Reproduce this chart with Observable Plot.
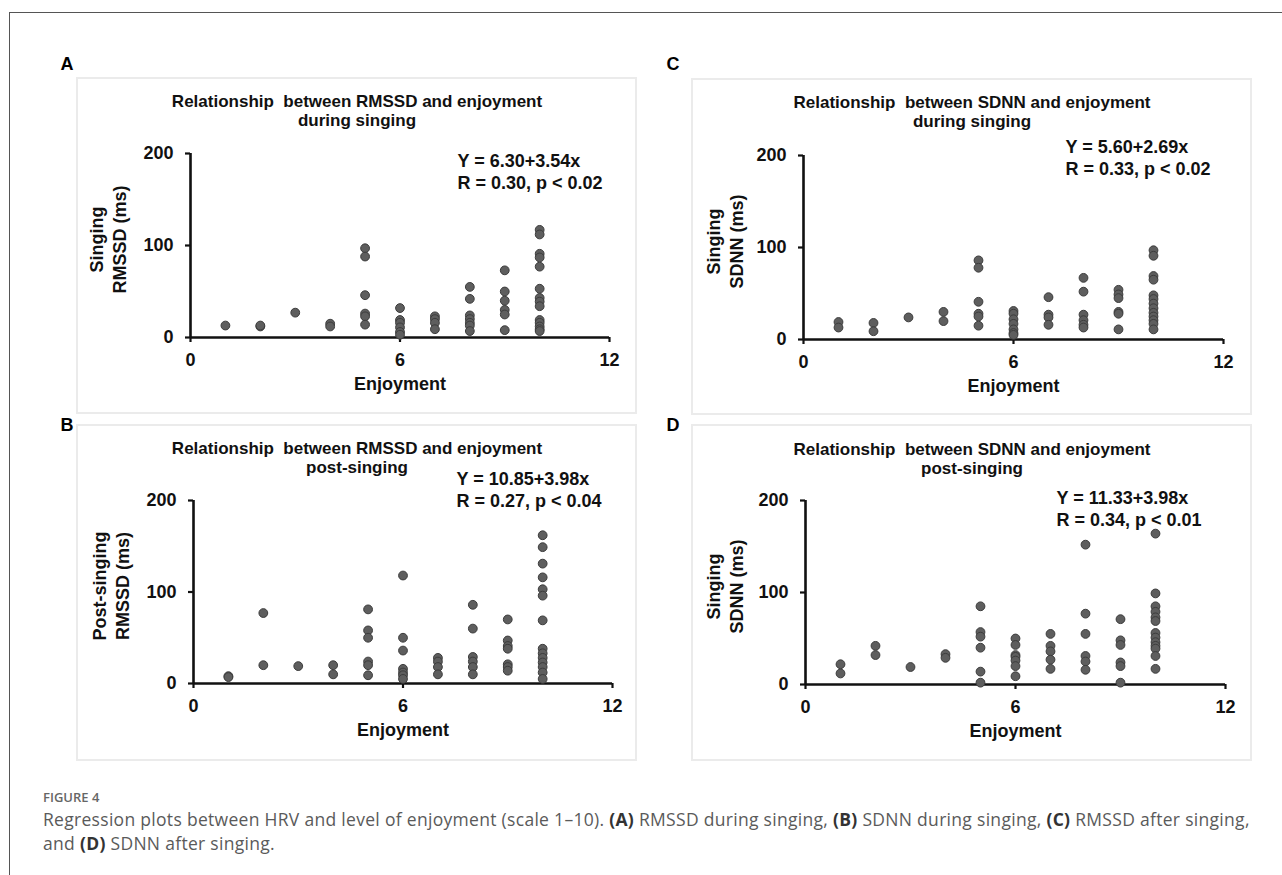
<!DOCTYPE html>
<html>
<head>
<meta charset="utf-8">
<script src="https://cdn.jsdelivr.net/npm/d3@7"></script>
<script src="https://cdn.jsdelivr.net/npm/@observablehq/plot@0.6"></script>
<style>
  html, body { margin: 0; padding: 0; background: #fff; }
  #page { position: relative; width: 1282px; height: 875px; overflow: hidden; background: #fff; }
  #frame { position: absolute; left: 9px; top: 12px; width: 1400px; height: 1000px;
           border-left: 1.5px solid #555; border-top: 1.5px solid #555; }
  .box { position: absolute; width: 561px; height: 337px; box-sizing: border-box; border: 2px solid #ebebeb; }
  .chart { position: absolute; }
  .chart svg { overflow: visible; }
  .plabel { position: absolute; font: bold 18px "Liberation Sans", Arial, sans-serif; color: #000;
            transform: translate(-50%, -50%); }
  #fig { position: absolute; left: 43px; top: 788px; font: 600 13px "Open Sans", sans-serif; color: #666; }
  #cap { position: absolute; left: 43px; top: 807px; width: 1225px; font: 17.5px/24px "Open Sans", sans-serif; color: #5a5a5a; letter-spacing: 0.3px; }
  #cap b { color: #333; font-weight: 700; }
</style>
</head>
<body>
<div id="page">
  <div id="frame"></div>
</div>
<script>
// ---------------- data ----------------
const enjoyment = [1, 2, 3, 4, 5, 6, 7, 8, 9, 10];
const xTicks = [0, 6, 12];
const yTicks = [0, 100, 200];

// values (ms) grouped by enjoyment level 1..10
const rmssdSinging = [
  [13], [12, 13], [27], [15, 12],
  [97, 88, 46, 26, 23, 14],
  [32, 19, 16, 11, 6, 3],
  [23, 20, 16, 9],
  [55, 42, 24, 20, 16, 13, 7],
  [73, 50, 40, 30, 25, 8],
  [117, 112, 91, 87, 77, 53, 43, 39, 34, 19, 16, 12, 9, 7]
];
const sdnnSinging = [
  [19, 13], [18, 9], [24], [30, 20],
  [86, 78, 41, 28, 25, 15],
  [31, 28, 22, 17, 11, 7, 5],
  [46, 27, 24, 16],
  [67, 52, 27, 21, 16, 13],
  [54, 49, 45, 30, 28, 11],
  [97, 91, 69, 65, 48, 44, 39, 34, 29, 25, 21, 17, 11]
];
const rmssdPost = [
  [8, 7], [77, 20], [19], [20, 10],
  [81, 58, 50, 24, 20, 9],
  [118, 50, 36, 16, 12, 9, 5],
  [28, 24, 18, 10],
  [86, 60, 29, 24, 18, 10],
  [70, 47, 41, 38, 21, 18, 14],
  [162, 149, 131, 116, 103, 96, 69, 38, 33, 28, 23, 18, 12, 5]
];
const sdnnPost = [
  [22, 12], [42, 32], [19], [33, 29],
  [85, 57, 52, 40, 14, 2],
  [50, 43, 32, 30, 26, 20, 9],
  [55, 42, 36, 27, 17],
  [152, 77, 55, 31, 25, 16],
  [71, 48, 43, 24, 20, 2],
  [164, 99, 85, 79, 73, 69, 56, 51, 46, 42, 39, 31, 17]
];

const panelLetters = ["A", "C", "B", "D"];
const panelTitles = [
  "Relationship  between RMSSD and enjoyment\nduring singing",
  "Relationship  between SDNN and enjoyment\nduring singing",
  "Relationship  between RMSSD and enjoyment\npost-singing",
  "Relationship  between SDNN and enjoyment\npost-singing"
];
const yLabels = [
  "Singing\nRMSSD (ms)",
  "Singing\nSDNN (ms)",
  "Post-singing\nRMSSD (ms)",
  "Singing\nSDNN (ms)"
];
const equations = [
  "Y = 6.30+3.54x\nR = 0.30, p < 0.02",
  "Y = 5.60+2.69x\nR = 0.33, p < 0.02",
  "Y = 10.85+3.98x\nR = 0.27, p < 0.04",
  "Y = 11.33+3.98x\nR = 0.34, p < 0.01"
];
const xLabel = "Enjoyment";
const panelValues = [rmssdSinging, sdnnSinging, rmssdPost, sdnnPost];

// ---------------- layout ----------------
const layout = [
  { left: 76,  top: 77,  m: [76, 28, 77, 114], eq: [267, 7],   yl: -83 , titleY: 33, letter: [67, 64] },
  { left: 691, top: 78,  m: [77, 29, 76, 112], eq: [262, -9],  yl: -79 , titleY: 33, letter: [673, 64] },
  { left: 76,  top: 424, m: [76, 25, 78, 117], eq: [263, -22], yl: -83 , titleY: 33, letter: [67, 425] },
  { left: 691, top: 424, m: [76, 27, 77, 114], eq: [251, -3],  yl: -81 , titleY: 34, letter: [673, 425] }
];

const page = document.getElementById("page");
const FONT = "'Liberation Sans', Arial, Helvetica, sans-serif";

panelValues.forEach((groups, i) => {
  const L = layout[i];
  const [mt, mr, mb, ml] = L.m;
  const W = 561, H = 337;
  const data = groups.flatMap((vals, k) => vals.map(v => ({ x: enjoyment[k], y: v })));

  const box = document.createElement("div");
  box.className = "box";
  box.style.left = L.left + "px";
  box.style.top = L.top + "px";
  page.appendChild(box);

  const chart = Plot.plot({
    width: W, height: H,
    marginTop: mt, marginRight: mr, marginBottom: mb, marginLeft: ml,
    style: { fontFamily: FONT, fontSize: "18px", fontWeight: "bold", color: "#111", background: "transparent", overflow: "visible" },
    x: { domain: [0, 12] },
    y: { domain: [0, 200] },
    marks: [
      Plot.axisX({ ticks: xTicks, tickSize: 5, tickPadding: 11, strokeWidth: 2.2, stroke: "#111", label: null, fontSize: 18, fill: "#111" }),
      Plot.axisY({ ticks: yTicks, tickSize: 5, tickPadding: 12, strokeWidth: 2.2, stroke: "#111", label: null, fontSize: 18, fill: "#111" }),
      Plot.ruleY([0], { stroke: "#111", strokeWidth: 2.6 }),
      Plot.ruleX([0], { stroke: "#111", strokeWidth: 2.6 }),
      Plot.dot(data, { x: "x", y: "y", r: 4.4, fill: "#5e5e5e", stroke: "#3c3c3c", strokeWidth: 1 }),
      Plot.text([panelTitles[i]], { frameAnchor: "top-left", dx: 280.5 - ml, dy: L.titleY - mt, textAnchor: "middle", lineAnchor: "middle", lineHeight: 1.12, fontSize: 17, fontWeight: "bold", fill: "#111" }),
      Plot.text([equations[i]], { frameAnchor: "top-left", dx: L.eq[0], dy: L.eq[1] + 10.5, textAnchor: "start", lineAnchor: "middle", lineHeight: 1.2, fontSize: 18, fontWeight: "bold", fill: "#111" }),
      Plot.text([yLabels[i]], { frameAnchor: "left", dx: L.yl, dy: -6, rotate: -90, textAnchor: "middle", lineAnchor: "middle", lineHeight: 1.25, fontSize: 18, fontWeight: "bold", fill: "#111" }),
      Plot.text([xLabel], { frameAnchor: "bottom", dx: 0, dy: 47, textAnchor: "middle", lineAnchor: "middle", fontSize: 18, fontWeight: "bold", fill: "#111" })
    ]
  });
  chart.classList.add("chart");
  chart.style.left = L.left + "px";
  chart.style.top = L.top + "px";
  chart.style.position = "absolute";
  page.appendChild(chart);

  const lab = document.createElement("div");
  lab.className = "plabel";
  lab.textContent = panelLetters[i];
  lab.style.left = L.letter[0] + "px";
  lab.style.top = L.letter[1] + "px";
  page.appendChild(lab);
});

const fig = document.createElement("div");
fig.id = "fig";
fig.textContent = "FIGURE 4";
page.appendChild(fig);

const cap = document.createElement("div");
cap.id = "cap";
cap.innerHTML = "Regression plots between HRV and level of enjoyment (scale 1\u201310). <b>(A)</b> RMSSD during singing, <b>(B)</b> SDNN during singing, <b>(C)</b> RMSSD after singing, and <b>(D)</b> SDNN after singing.";
page.appendChild(cap);
</script>
</body>
</html>
